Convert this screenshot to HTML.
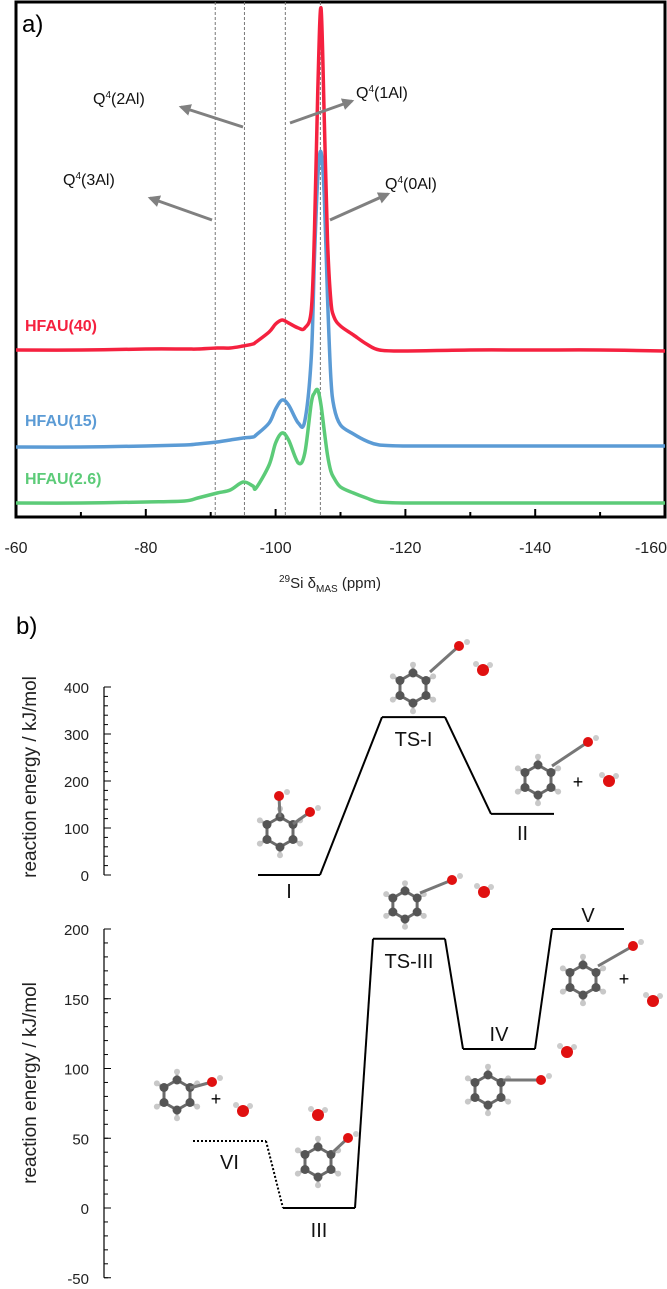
<!DOCTYPE html>
<html><head><meta charset="utf-8"><style>
html,body{margin:0;padding:0;background:#fff;}
svg{display:block;font-family:"Liberation Sans",Arial,sans-serif;}
</style></head><body>
<svg id="fig" width="667" height="1289" viewBox="0 0 667 1289">
<g id="panelA"></g>
<g id="panelB"></g>
</svg>
<script>
// ---------- Panel a data ----------
const ppmPoints = [-60,-70,-80,-86,-88,-91,-93,-95,-96.5,-97,-99,-100,-101,-102,-103.5,-104.5,-105.5,-106,-106.5,-107,-107.5,-108,-108.5,-109,-110,-112,-114,-116,-120,-130,-140,-150,-160];
const red40   = [0,0,1,1,1,2,2,4,6,8,18,26,30,27,22,22,40,120,260,342,230,110,50,33,24,15,6,0,-1,0,0,0,-1];
const blue15  = [0,0,1,2,3,5,7,9,10,12,24,38,47,42,24,26,90,190,270,295,250,150,70,40,22,13,6,2,1,1,1,1,1];
const green26 = [0,0,1,2,5,10,13,21,17,15,38,60,70,63,40,50,100,110,113,98,72,48,32,25,16,10,5,1,0,0,0,0,0];
const seriesNames = ["HFAU(40)","HFAU(15)","HFAU(2.6)"];
const seriesColors = ["#f5213f","#5b9bd5","#5ccb78"];
const xTicks = [-60,-80,-100,-120,-140,-160];
const xMinorTicks = [-70,-90,-110,-130,-150];
const refLines = [-90.7,-95.2,-101.5,-106.9];

// ---------- Panel b data ----------
const upperStates = ["I","TS-I","II"];
const upperEnergies = [0,336,130];
const upperTicks = [0,100,200,300,400];
const lowerStates = ["VI","III","TS-III","IV","V"];
const lowerEnergies = [48,0,193,114,200];
const lowerTicks = [-50,0,50,100,150,200];

const NS="http://www.w3.org/2000/svg";
function mk(parent,tag,attrs,text){const e=document.createElementNS(NS,tag);for(const k in attrs)e.setAttribute(k,attrs[k]);if(text!==undefined)e.textContent=text;parent.appendChild(e);return e;}

// ===== Panel a =====
const A=document.getElementById('panelA');
const ax={l:16,r:665,t:2,b:517};
const xA=p=>ax.l+(p-(-60))/(-100)*(ax.r-ax.l);
const baseY=i=>ax.b-[167,70,14][i];
function yVal(i,v){return baseY(i)-v;}

let e=mk(A,'rect',{x:ax.l,y:ax.t,width:ax.r-ax.l,height:ax.b-ax.t,fill:'none',stroke:'#000','stroke-width':3});

refLines.forEach(p=>{const l=mk(A,'line',{x1:xA(p),x2:xA(p),y1:ax.t,y2:ax.b,stroke:'#777','stroke-width':1,'stroke-dasharray':'3,2'});
});

function smoothPath(pts){let d='M'+pts[0][0]+','+pts[0][1];for(let i=0;i<pts.length-1;i++){const p0=pts[Math.max(i-1,0)],p1=pts[i],p2=pts[i+1],p3=pts[Math.min(i+2,pts.length-1)];const t=0.5/3;
const c1=[p1[0]+(p2[0]-p0[0])*t,p1[1]+(p2[1]-p0[1])*t],c2=[p2[0]-(p3[0]-p1[0])*t,p2[1]-(p3[1]-p1[1])*t];d+=' C'+c1.join(',')+' '+c2.join(',')+' '+p2.join(',');}return d;}
const allSeries=[red40,blue15,green26];
[2,1,0].forEach(i=>{const pts=ppmPoints.map((p,k)=>[xA(p).toFixed(1),yVal(i,allSeries[i][k]).toFixed(1)].map(Number));
const pth=mk(A,'path',{d:smoothPath(pts),fill:'none',stroke:seriesColors[i],'stroke-width':3.5,'stroke-linejoin':'round'});

const lb=mk(A,'text',{x:25,y:[331,426,484][i],fill:seriesColors[i],'font-size':16,'font-weight':'bold'},seriesNames[i]);
});

xTicks.forEach((p,k)=>{const t=mk(A,'line',{x1:xA(p),x2:xA(p),y1:ax.b,y2:ax.b-8,stroke:'#000','stroke-width':2});
const last=k===xTicks.length-1;
const tl=mk(A,'text',{x:last?667:xA(p),y:553,'text-anchor':last?'end':'middle','font-size':16,fill:'#222'},String(p));});
xMinorTicks.forEach(p=>{const t=mk(A,'line',{x1:xA(p),x2:xA(p),y1:ax.b,y2:ax.b-5,stroke:'#000','stroke-width':2});});
const xt=mk(A,'text',{x:330,y:588,'text-anchor':'middle','font-size':15,fill:'#222'});

xt.innerHTML='<tspan font-size="10" dy="-6">29</tspan><tspan dy="6">Si δ</tspan><tspan font-size="10" dy="4">MAS</tspan><tspan dy="-4"> (ppm)</tspan>';
const pa=mk(A,'text',{x:22,y:32,'font-size':24,fill:'#000'},'a)');

const arrows=[["Q","(3Al)",63,185,212,220,150,198],["Q","(2Al)",93,104,243,127,181,107],["Q","(1Al)",356,98,290,123,352,101],["Q","(0Al)",385,189,330,220,388,194]];
mk(A,'defs',{}).innerHTML='<marker id="ah" viewBox="0 0 10 10" refX="8" refY="5" markerWidth="4" markerHeight="4" orient="auto"><path d="M0,0L10,5L0,10z" fill="#808080"/></marker>';
arrows.forEach(a=>{const l=mk(A,'line',{x1:a[4],y1:a[5],x2:a[6],y2:a[7],stroke:'#808080','stroke-width':3,'marker-end':'url(#ah)'});

const t=mk(A,'text',{x:a[2],y:a[3],'font-size':16,fill:'#111'});t.innerHTML='Q<tspan font-size="10" dy="-6">4</tspan><tspan dy="6">'+a[1]+'</tspan>';
});

// ===== Panel b =====
const B=document.getElementById('panelB');
const pb=mk(B,'text',{x:16,y:634,'font-size':24,fill:'#000'},'b)');
const axX=104;
const yU=v=>875-v*0.47;
const yL=v=>1208-v*1.395;
function axis(ticks,yf,minStep,minV,maxV,name,titleY){
 const l=mk(B,'line',{x1:axX,x2:axX,y1:yf(maxV),y2:yf(minV),stroke:'#000','stroke-width':1.2});
 for(let v=minV;v<=maxV+0.01;v+=minStep){const t=mk(B,'line',{x1:axX,x2:axX+4,y1:yf(v),y2:yf(v),stroke:'#000','stroke-width':1});}
 ticks.forEach(v=>{const t=mk(B,'line',{x1:axX,x2:axX+7,y1:yf(v),y2:yf(v),stroke:'#000','stroke-width':1});
  const tl=mk(B,'text',{x:89,y:yf(v)+6,'text-anchor':'end','font-size':15,fill:'#222'},String(v));});
 const tt=mk(B,'text',{x:0,y:0,transform:'translate(36,'+titleY+') rotate(-90)','text-anchor':'middle','font-size':19,fill:'#222'},'reaction energy / kJ/mol');
 }
axis(upperTicks,yU,20,0,400,'upper',777);
axis(lowerTicks,yL,10,-50,200,'lower',1083);

function levels(states,energies,yf,xs,labelPos,name,dottedFirst){
 for(let i=0;i<states.length;i++){const y=yf(energies[i]);
  const l=mk(B,'line',{x1:xs[i][0],x2:xs[i][1],y1:y,y2:y,stroke:'#000','stroke-width':2,'stroke-dasharray':(dottedFirst&&i===0)?'2,2':'none'});
  
  if(i<states.length-1){const c=mk(B,'line',{x1:xs[i][1],x2:xs[i+1][0],y1:y,y2:yf(energies[i+1]),stroke:'#000','stroke-width':2,'stroke-dasharray':(dottedFirst&&i===0)?'2,2':'none'});
   }
  const t=mk(B,'text',{x:(xs[i][0]+xs[i][1])/2,y:y+labelPos[i],'text-anchor':'middle','font-size':20,fill:'#111'},states[i]);
  }}
levels(upperStates,upperEnergies,yU,[[258,320],[382,445],[491,554]],[23,29,26],'upper',false);
levels(lowerStates,lowerEnergies,yL,[[193,266],[283,355],[373,445],[463,535],[552,624]],[28,29,29,-8,-7],'lower',true);

function atom(g,x,y,r,fill){const c=mk(g,'circle',{cx:x,cy:y,r:r,fill:fill});return c;}
function bond(g,x1,y1,x2,y2,col){mk(g,'line',{x1,y1,x2,y2,stroke:col||'#666','stroke-width':3});}
function ring(cx,cy,R,name,oxy,water,plus){
 const g=mk(B,'g',{});
 const p=[];for(let k=0;k<6;k++){const a=Math.PI/6+k*Math.PI/3;p.push([cx+R*Math.cos(a),cy+R*Math.sin(a)]);}
 for(let k=0;k<6;k++){const q=p[(k+1)%6];bond(g,p[k][0],p[k][1],q[0],q[1],'#6a6a6a');}
 p.forEach(pt=>{const hx=cx+(pt[0]-cx)*1.55,hy=cy+(pt[1]-cy)*1.55;bond(g,pt[0],pt[1],hx,hy,'#aaa');atom(g,hx,hy,3,'#c8c8c8');});
 p.forEach(pt=>atom(g,pt[0],pt[1],4.5,'#555'));
 (oxy||[]).forEach(o=>{bond(g,o[2],o[3],o[0],o[1],'#777');atom(g,o[0],o[1],5,'#e01010');atom(g,o[0]+8,o[1]-4,3,'#ccc');});
 if(water){const w=water;atom(g,w[0]-7,w[1]-6,3,'#ccc');atom(g,w[0]+7,w[1]-5,3,'#ccc');atom(g,w[0],w[1],6,'#e01010');}
 if(plus){mk(g,'text',{x:plus[0],y:plus[1],'font-size':18,'text-anchor':'middle',fill:'#000'},'+');}
}
ring(280,832,15,'molecule-i',[[279,796,280,817],[310,812,293,824]]);
ring(413,688,15,'molecule-ts-i',[[459,646,430,672]],[483,670]);
ring(538,780,15,'molecule-ii',[[588,742,552,766]],[609,781],[578,788]);
ring(405,905,14,'molecule-ts-iii',[[452,880,420,893]],[484,892]);
ring(583,980,15,'molecule-v',[[633,946,598,966]],[653,1001],[624,985]);
ring(488,1090,15,'molecule-iv',[[541,1080,503,1080]],[567,1052]);
ring(177,1095,15,'molecule-vi',[[212,1082,190,1088]],[243,1111],[216,1105]);
ring(318,1162,15,'molecule-iii',[[348,1138,333,1152]],[318,1115]);
</script>
</body></html>
